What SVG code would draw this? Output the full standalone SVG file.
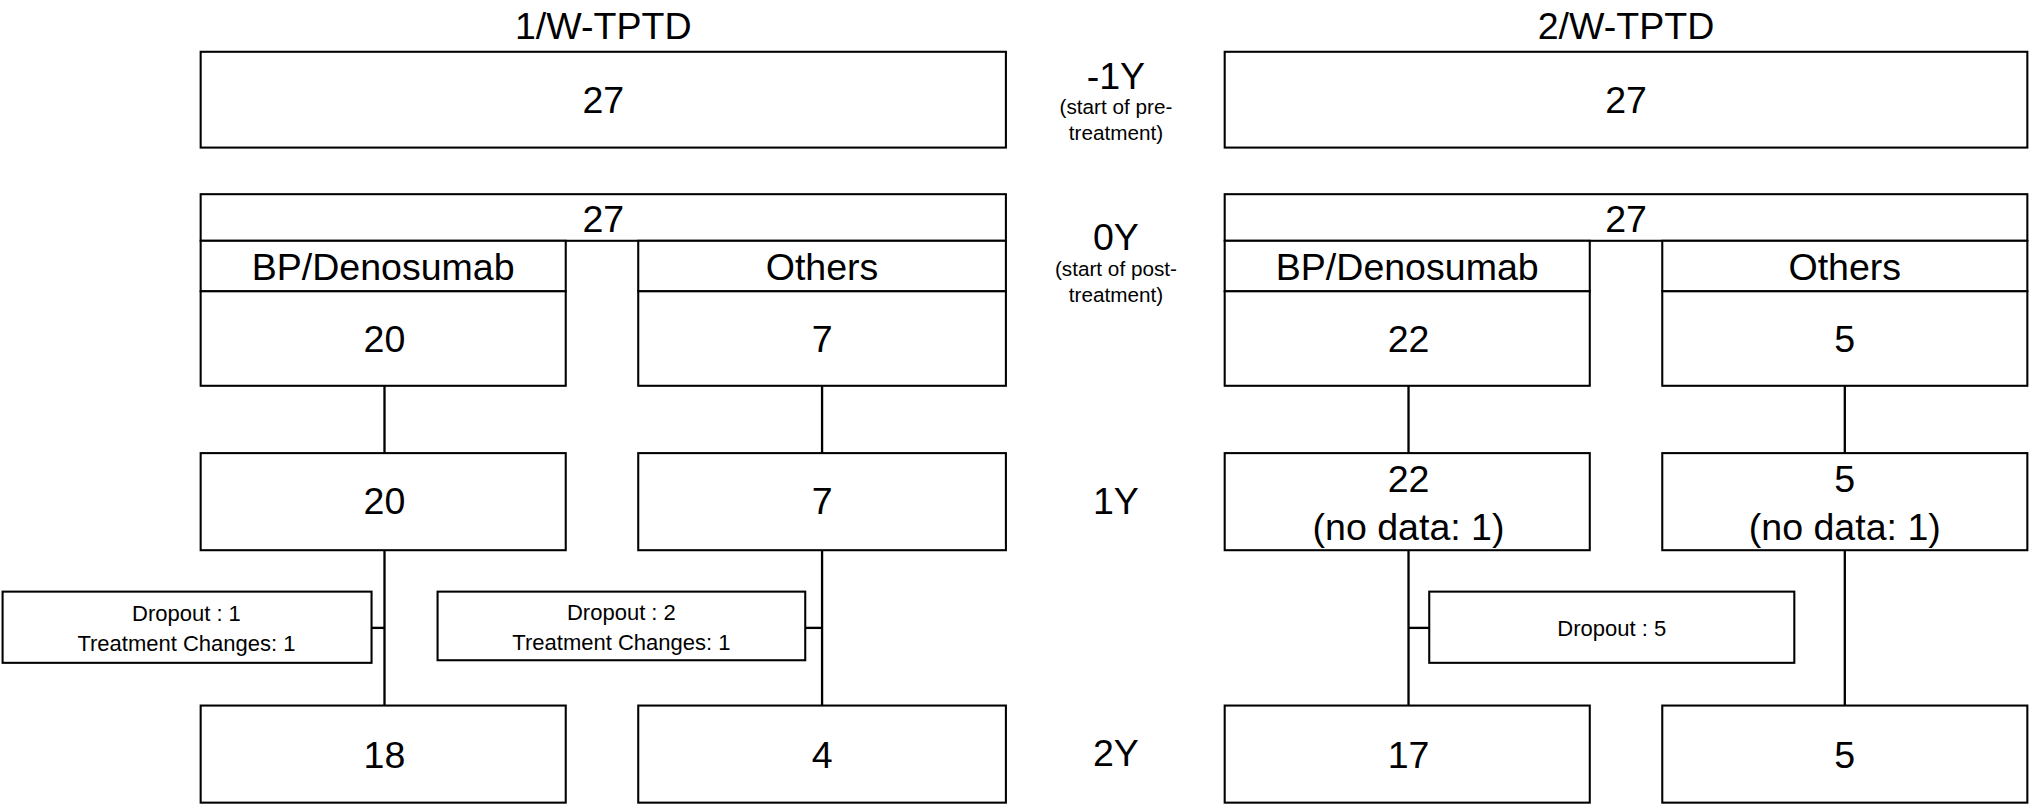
<svg xmlns="http://www.w3.org/2000/svg" width="2030" height="805" viewBox="0 0 2030 805">
<style>
rect{fill:#fff;stroke:#000;stroke-width:1.6}
text{font-family:"Liberation Sans",Arial,sans-serif;fill:#000;text-anchor:middle}
.b{font-size:29px}
.s{font-size:17px}
.xs{font-size:16px}
.c line{stroke:#000;stroke-width:1.8}
</style>
<rect x="0" y="0" width="2030" height="805" style="fill:#fff;stroke:none"/>
<g transform="scale(1.2946)">
<text class="b" x="466" y="30">1/W-TPTD</text>
<text class="b" x="1256" y="30">2/W-TPTD</text>
<g id="labels">
<text class="b" x="862" y="69">-1Y</text>
<text class="xs" x="862" y="88">(start of pre-</text>
<text class="xs" x="862" y="108">treatment)</text>
<text class="b" x="862" y="193">0Y</text>
<text class="xs" x="862" y="213">(start of post-</text>
<text class="xs" x="862" y="233">treatment)</text>
<text class="b" x="862" y="397">1Y</text>
<text class="b" x="862" y="592">2Y</text>
</g>
<g class="c" id="connectors">
<line x1="297" y1="298" x2="297" y2="350"/><line x1="635" y1="298" x2="635" y2="350"/>
<line x1="1088" y1="298" x2="1088" y2="350"/><line x1="1425" y1="298" x2="1425" y2="350"/>
<line x1="297" y1="425" x2="297" y2="545"/><line x1="635" y1="425" x2="635" y2="545"/>
<line x1="1088" y1="425" x2="1088" y2="545"/><line x1="1425" y1="425" x2="1425" y2="545"/>
<line x1="287" y1="485" x2="297" y2="485"/><line x1="622" y1="485" x2="635" y2="485"/>
<line x1="1088" y1="485" x2="1104" y2="485"/>
</g>
<g id="L-pre"><rect x="155" y="40" width="622" height="74"/><text class="b" x="466" y="87">27</text></g>
<g id="R-pre"><rect x="946" y="40" width="620" height="74"/><text class="b" x="1256" y="87">27</text></g>
<g id="L-0"><rect x="155" y="150" width="622" height="36"/><text class="b" x="466" y="179">27</text></g>
<g id="R-0"><rect x="946" y="150" width="620" height="36"/><text class="b" x="1256" y="179">27</text></g>
<g id="L-bp"><rect x="155" y="186" width="282" height="39"/><text class="b" x="296" y="216">BP/Denosumab</text>
<rect x="155" y="225" width="282" height="73"/><text class="b" x="297" y="272">20</text></g>
<g id="L-ot"><rect x="493" y="186" width="284" height="39"/><text class="b" x="635" y="216">Others</text>
<rect x="493" y="225" width="284" height="73"/><text class="b" x="635" y="272">7</text></g>
<g id="R-bp"><rect x="946" y="186" width="282" height="39"/><text class="b" x="1087" y="216">BP/Denosumab</text>
<rect x="946" y="225" width="282" height="73"/><text class="b" x="1088" y="272">22</text></g>
<g id="R-ot"><rect x="1284" y="186" width="282" height="39"/><text class="b" x="1425" y="216">Others</text>
<rect x="1284" y="225" width="282" height="73"/><text class="b" x="1425" y="272">5</text></g>
<g id="L-1a"><rect x="155" y="350" width="282" height="75"/><text class="b" x="297" y="397">20</text></g>
<g id="L-1b"><rect x="493" y="350" width="284" height="75"/><text class="b" x="635" y="397">7</text></g>
<g id="R-1a"><rect x="946" y="350" width="282" height="75"/><text class="b" x="1088" y="380">22</text><text class="b" x="1088" y="417">(no data: 1)</text></g>
<g id="R-1b"><rect x="1284" y="350" width="282" height="75"/><text class="b" x="1425" y="380">5</text><text class="b" x="1425" y="417">(no data: 1)</text></g>
<g id="L-d1"><rect x="2" y="457" width="285" height="55"/><text class="s" x="144" y="480">Dropout : 1</text><text class="s" x="144" y="503">Treatment Changes: 1</text></g>
<g id="L-d2"><rect x="338" y="457" width="284" height="53"/><text class="s" x="480" y="479">Dropout : 2</text><text class="s" x="480" y="502">Treatment Changes: 1</text></g>
<g id="R-d"><rect x="1104" y="457" width="282" height="55"/><text class="s" x="1245" y="491">Dropout : 5</text></g>
<g id="L-2a"><rect x="155" y="545" width="282" height="75"/><text class="b" x="297" y="593">18</text></g>
<g id="L-2b"><rect x="493" y="545" width="284" height="75"/><text class="b" x="635" y="593">4</text></g>
<g id="R-2a"><rect x="946" y="545" width="282" height="75"/><text class="b" x="1088" y="593">17</text></g>
<g id="R-2b"><rect x="1284" y="545" width="282" height="75"/><text class="b" x="1425" y="593">5</text></g>
</g>
</svg>
